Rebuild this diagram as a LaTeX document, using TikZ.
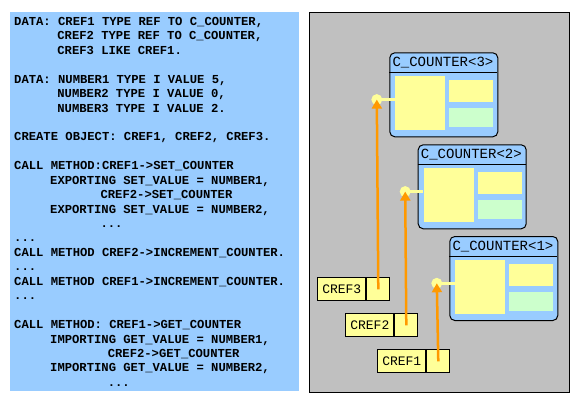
\documentclass[tikz,border=0pt]{standalone}
\usepackage{fontspec}
\setmonofont{Liberation Mono}
\usetikzlibrary{arrows.meta}
\definecolor{panelblue}{HTML}{99CCFF}
\definecolor{panelgray}{HTML}{C0C0C0}
\definecolor{objyellow}{HTML}{FFFF99}
\definecolor{objgreen}{HTML}{CCFFCC}
\definecolor{refarrow}{HTML}{FF9900}
\tikzset{
  codeline/.style={anchor=base west, inner sep=0pt, font=\ttfamily\bfseries\fontsize{12.2}{12}\selectfont},
  objbox/.style={draw=black, line width=1pt, fill=panelblue, rounded corners=5pt, minimum width=108pt, minimum height=84pt, inner sep=0pt, anchor=north west},
  objtitle/.style={anchor=west, inner sep=0pt, font=\ttfamily\fontsize{14}{14}\selectfont},
  bigpart/.style={fill=objyellow, minimum width=50pt, minimum height=54pt, inner sep=0pt, anchor=north west},
  smallpart/.style={fill=objyellow, minimum width=44pt, minimum height=22pt, inner sep=0pt, anchor=north west},
  greenpart/.style={fill=objgreen, minimum width=44pt, minimum height=19pt, inner sep=0pt, anchor=north west},
  refdot/.style={circle, fill=objyellow, minimum size=11pt, inner sep=0pt},
  reflink/.style={draw=objyellow, line width=3.5pt},
  reflabel/.style={draw=black, line width=1pt, fill=objyellow, minimum width=48pt, minimum height=23pt, inner sep=0pt, anchor=north west, font=\ttfamily\fontsize{13}{13}\selectfont},
  refcell/.style={draw=black, line width=1pt, fill=objyellow, minimum width=23pt, minimum height=23pt, inner sep=0pt, anchor=west},
  pointer/.style={draw=refarrow, line width=2.5pt, -{Triangle[width=10pt,length=9pt]}}
}
\newcommand\counterobj[4]{%
  \node[objbox] (#1) at (#2,#3) {};
  \draw[line width=1pt] (#2,#3+20) -- (#2+108,#3+20);
  \node[objtitle] (#1title) at (#2+3,#3+10.5) {C\_COUNTER<#4>};
  \node[bigpart] (#1big) at (#2+5.7,#3+23.7) {};
  \node[smallpart] (#1small) at (#2+59.7,#3+27.7) {};
  \node[greenpart] (#1green) at (#2+59.7,#3+55.4) {};
  \node[refdot] (#1dot) at (#2-12.5,#3+47.3) {};
  \draw[reflink] (#1dot.center) -- (#1dot.center -| #1big.west);
}
\begin{document}
\begin{tikzpicture}[x=1pt,y=-1pt]
\useasboundingbox (0,0) rectangle (576,402);
% left code panel
\fill[panelblue] (10,12) rectangle (299,391);
\node[codeline] (c0)  at (14,25.3)    {DATA: CREF1 TYPE REF TO C\_COUNTER,};
\node[codeline] (c1)  at (57.2,39.7)  {CREF2 TYPE REF TO C\_COUNTER,};
\node[codeline] (c2)  at (57.2,54.2)  {CREF3 LIKE CREF1.};
\node[codeline] (c4)  at (14,83.1)    {DATA: NUMBER1 TYPE I VALUE 5,};
\node[codeline] (c5)  at (57.2,97.5)  {NUMBER2 TYPE I VALUE 0,};
\node[codeline] (c6)  at (57.2,112)   {NUMBER3 TYPE I VALUE 2.};
\node[codeline] (c8)  at (14,140.8)   {CREATE OBJECT: CREF1, CREF2, CREF3.};
\node[codeline] (c10) at (14,169.7)   {CALL METHOD:CREF1->SET\_COUNTER};
\node[codeline] (c11) at (50,184.1)   {EXPORTING SET\_VALUE = NUMBER1,};
\node[codeline] (c12) at (100.4,198.6) {CREF2->SET\_COUNTER};
\node[codeline] (c13) at (50,213)     {EXPORTING SET\_VALUE = NUMBER2,};
\node[codeline] (c14) at (100.4,227.5) {...};
\node[codeline] (c15) at (14,241.9)   {...};
\node[codeline] (c16) at (14,256.3)   {CALL METHOD CREF2->INCREMENT\_COUNTER.};
\node[codeline] (c17) at (14,270.8)   {...};
\node[codeline] (c18) at (14,285.2)   {CALL METHOD CREF1->INCREMENT\_COUNTER.};
\node[codeline] (c19) at (14,299.7)   {...};
\node[codeline] (c21) at (14,328.5)   {CALL METHOD: CREF1->GET\_COUNTER};
\node[codeline] (c22) at (50,343)     {IMPORTING GET\_VALUE = NUMBER1,};
\node[codeline] (c23) at (107.6,357.4) {CREF2->GET\_COUNTER};
\node[codeline] (c24) at (50,371.9)   {IMPORTING GET\_VALUE = NUMBER2,};
\node[codeline] (c25) at (107.6,386.3) {...};
% right panel
\draw[fill=panelgray, line width=1pt] (309,12) rectangle (569,392);
\counterobj{objthree}{389.3}{52.3}{3}
\counterobj{objtwo}{417.7}{144.3}{2}
\counterobj{objone}{449.3}{236}{1}
% reference variables
\node[reflabel] (crefthree) at (317.3,277.3) {CREF3};
\node[refcell] (crefthreecell) at (crefthree.east) {};
\node[reflabel] (creftwo) at (345.3,313.3) {CREF2};
\node[refcell] (creftwocell) at (creftwo.east) {};
\node[reflabel] (crefone) at (377.3,349.3) {CREF1};
\node[refcell] (crefonecell) at (crefone.east) {};
% pointers
\draw[pointer] (crefthreecell.center) -- (objthreedot.center);
\draw[pointer] (creftwocell.center) -- (objtwodot.center);
\draw[pointer] (crefonecell.center) -- (objonedot.center);
\end{tikzpicture}
\end{document}
